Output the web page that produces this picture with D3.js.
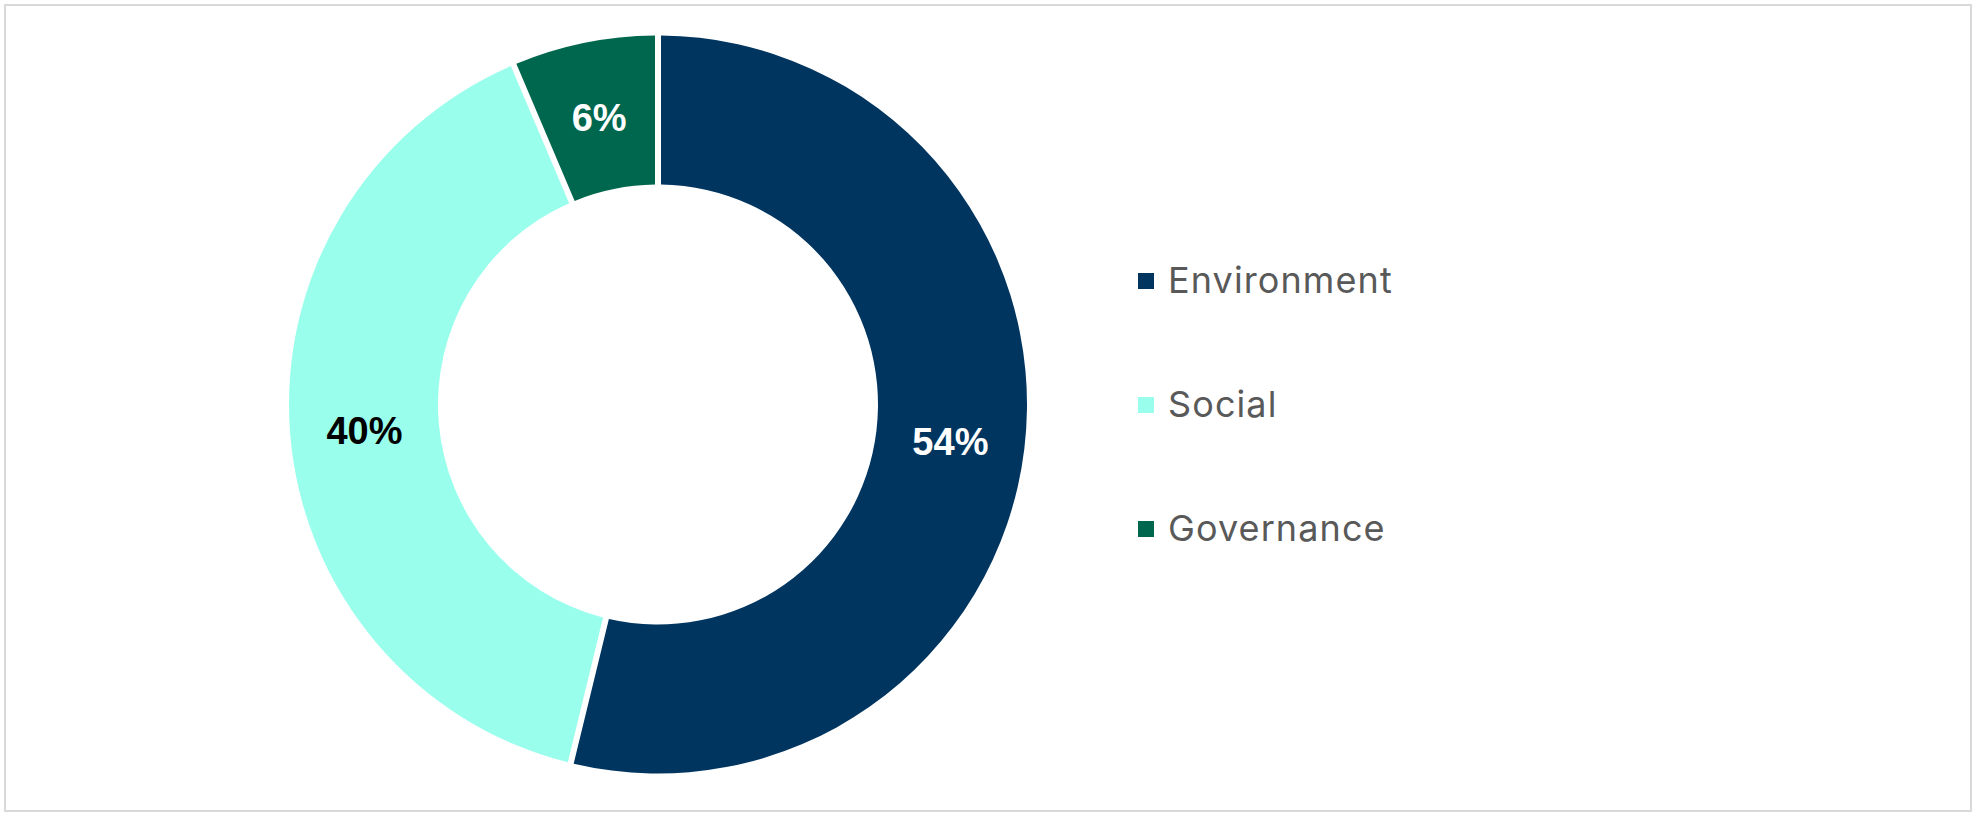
<!DOCTYPE html>
<html lang="en">
<head>
<meta charset="UTF-8">
<title>ESG split</title>
<script src="https://d3js.org/d3.v7.min.js"></script>
<style>
    body { margin: 0; background: #ffffff; }
    .slice-label { font-family: "Liberation Sans", Arial, sans-serif; font-weight: bold; font-size: 38px; }
    .legend text { font-family: Inter, "Open Sans", sans-serif; font-size: 36px; letter-spacing: 1.1px; fill: #595959; }
</style>
</head>
<body>
<div id="chart"></div>
<script>
    // data (share of total, %)
    var categories = ["Environment", "Social", "Governance"];
    var shares = [53.8, 39.8, 6.4];
    var colors = ["#003560", "#99ffec", "#00674f"];
    var labelColors = ["#ffffff", "#000000", "#ffffff"];

    var width = 1980, height = 820;
    var cx = 658, cy = 404.5, outerR = 369, innerR = 220;

    var svg = d3.select("#chart")
        .append("svg")
        .attr("width", width)
        .attr("height", height);

    // light frame round the chart
    svg.append("rect")
        .attr("x", 5).attr("y", 5)
        .attr("width", 1966).attr("height", 806)
        .attr("fill", "none")
        .attr("stroke", "#d9d9d9")
        .attr("stroke-width", 2);

    var pie = d3.pie().sort(null).value(function (d) { return d; });
    var arcs = pie(shares);

    var arc = d3.arc()
        .innerRadius(innerR)
        .outerRadius(outerR)
        .padRadius(outerR)
        .padAngle(6 / outerR);

    var g = svg.append("g").attr("transform", "translate(" + cx + "," + cy + ")");

    g.selectAll("path")
        .data(arcs)
        .enter().append("path")
        .attr("d", arc)
        .attr("fill", function (d, i) { return colors[i]; });

    var fmt = d3.format(".0f");
    g.selectAll("text")
        .data(arcs)
        .enter().append("text")
        .attr("class", "slice-label")
        .attr("transform", function (d) { return "translate(" + arc.centroid(d) + ")"; })
        .attr("text-anchor", "middle")
        .attr("dy", "0.4em")
        .attr("fill", function (d, i) { return labelColors[i]; })
        .text(function (d) { return fmt(d.data) + "%"; });

    // legend
    var legendY = d3.scalePoint().domain(categories).range([281, 529]);
    var legend = svg.append("g").attr("class", "legend");
    var item = legend.selectAll("g")
        .data(categories)
        .enter().append("g")
        .attr("transform", function (d) { return "translate(1138," + legendY(d) + ")"; });

    item.append("rect")
        .attr("x", 0).attr("y", -8)
        .attr("width", 16).attr("height", 16)
        .attr("fill", function (d, i) { return colors[i]; });

    item.append("text")
        .attr("x", 30)
        .attr("y", 12)
        .text(function (d) { return d; });
</script>
</body>
</html>
